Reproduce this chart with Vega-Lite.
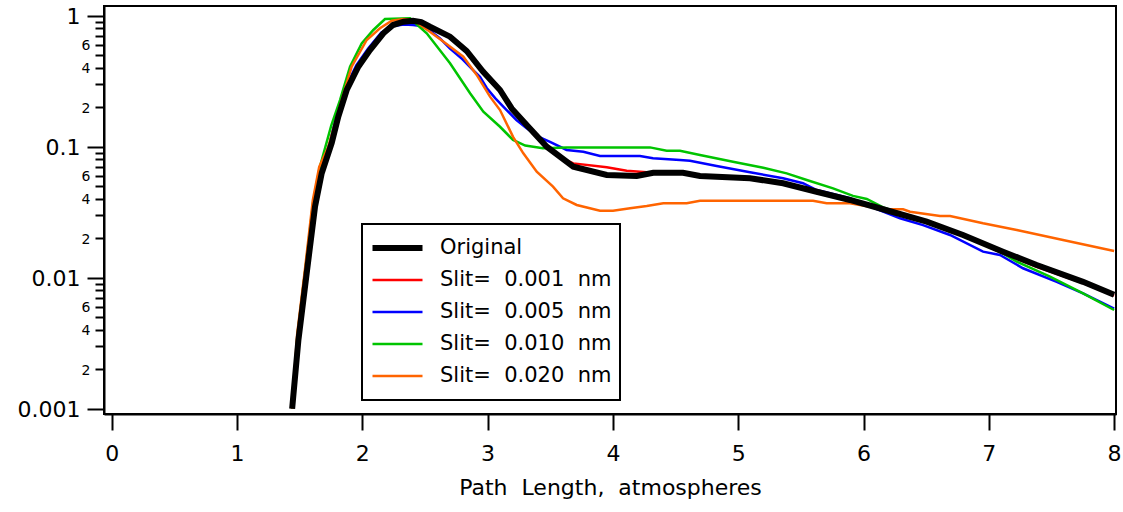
{
  "$schema": "https://vega.github.io/schema/vega-lite/v6.json",
  "autosize": {"type": "none"},
  "padding": {"left": 104, "top": 6, "right": 7, "bottom": 98},
  "width": 1012,
  "height": 408,
  "background": "white",
  "config": {
    "font": "DejaVu Sans",
    "view": {"stroke": "black", "strokeWidth": 2},
    "legend": {"strokeWidth": 2},
    "axis": {"grid": false, "domainColor": "black", "domainWidth": 2, "tickColor": "black", "tickWidth": 2, "labelColor": "black", "titleColor": "black", "labelFont": "DejaVu Sans", "titleFont": "DejaVu Sans"}
  },
  "data": {"values": [
    {"s": "Original", "x": 1.44, "y": 0.001},
    {"s": "Original", "x": 1.49, "y": 0.00334},
    {"s": "Original", "x": 1.556, "y": 0.0108},
    {"s": "Original", "x": 1.6225, "y": 0.0348},
    {"s": "Original", "x": 1.676, "y": 0.0627},
    {"s": "Original", "x": 1.756, "y": 0.1067},
    {"s": "Original", "x": 1.808, "y": 0.169},
    {"s": "Original", "x": 1.8755, "y": 0.271},
    {"s": "Original", "x": 1.968, "y": 0.408},
    {"s": "Original", "x": 2.061, "y": 0.547},
    {"s": "Original", "x": 2.168, "y": 0.734},
    {"s": "Original", "x": 2.245, "y": 0.849},
    {"s": "Original", "x": 2.33, "y": 0.9},
    {"s": "Original", "x": 2.405, "y": 0.916},
    {"s": "Original", "x": 2.47, "y": 0.895},
    {"s": "Original", "x": 2.54, "y": 0.824},
    {"s": "Original", "x": 2.7, "y": 0.692},
    {"s": "Original", "x": 2.833, "y": 0.538},
    {"s": "Original", "x": 2.963, "y": 0.374},
    {"s": "Original", "x": 3.099, "y": 0.271},
    {"s": "Original", "x": 3.192, "y": 0.196},
    {"s": "Original", "x": 3.312, "y": 0.1466},
    {"s": "Original", "x": 3.472, "y": 0.1},
    {"s": "Original", "x": 3.684, "y": 0.0703},
    {"s": "Original", "x": 3.951, "y": 0.0608},
    {"s": "Original", "x": 4.19, "y": 0.0598},
    {"s": "Original", "x": 4.322, "y": 0.0633},
    {"s": "Original", "x": 4.559, "y": 0.0633},
    {"s": "Original", "x": 4.695, "y": 0.0598},
    {"s": "Original", "x": 5.094, "y": 0.0574},
    {"s": "Original", "x": 5.358, "y": 0.0526},
    {"s": "Original", "x": 5.626, "y": 0.0453},
    {"s": "Original", "x": 5.892, "y": 0.0392},
    {"s": "Original", "x": 6.156, "y": 0.0333},
    {"s": "Original", "x": 6.504, "y": 0.0268},
    {"s": "Original", "x": 6.794, "y": 0.0212},
    {"s": "Original", "x": 7.113, "y": 0.0158},
    {"s": "Original", "x": 7.382, "y": 0.0125},
    {"s": "Original", "x": 7.752, "y": 0.0093},
    {"s": "Original", "x": 8.0, "y": 0.0074},

    {"s": "Slit=\u00a0\u00a00.001\u00a0\u00a0nm", "x": 1.44, "y": 0.001},
    {"s": "Slit=\u00a0\u00a00.001\u00a0\u00a0nm", "x": 1.487, "y": 0.00345},
    {"s": "Slit=\u00a0\u00a00.001\u00a0\u00a0nm", "x": 1.553, "y": 0.011},
    {"s": "Slit=\u00a0\u00a00.001\u00a0\u00a0nm", "x": 1.619, "y": 0.0355},
    {"s": "Slit=\u00a0\u00a00.001\u00a0\u00a0nm", "x": 1.672, "y": 0.0635},
    {"s": "Slit=\u00a0\u00a00.001\u00a0\u00a0nm", "x": 1.752, "y": 0.108},
    {"s": "Slit=\u00a0\u00a00.001\u00a0\u00a0nm", "x": 1.803, "y": 0.171},
    {"s": "Slit=\u00a0\u00a00.001\u00a0\u00a0nm", "x": 1.87, "y": 0.275},
    {"s": "Slit=\u00a0\u00a00.001\u00a0\u00a0nm", "x": 1.962, "y": 0.413},
    {"s": "Slit=\u00a0\u00a00.001\u00a0\u00a0nm", "x": 2.055, "y": 0.555},
    {"s": "Slit=\u00a0\u00a00.001\u00a0\u00a0nm", "x": 2.16, "y": 0.74},
    {"s": "Slit=\u00a0\u00a00.001\u00a0\u00a0nm", "x": 2.245, "y": 0.85},
    {"s": "Slit=\u00a0\u00a00.001\u00a0\u00a0nm", "x": 2.33, "y": 0.895},
    {"s": "Slit=\u00a0\u00a00.001\u00a0\u00a0nm", "x": 2.405, "y": 0.91},
    {"s": "Slit=\u00a0\u00a00.001\u00a0\u00a0nm", "x": 2.47, "y": 0.89},
    {"s": "Slit=\u00a0\u00a00.001\u00a0\u00a0nm", "x": 2.54, "y": 0.82},
    {"s": "Slit=\u00a0\u00a00.001\u00a0\u00a0nm", "x": 2.7, "y": 0.68},
    {"s": "Slit=\u00a0\u00a00.001\u00a0\u00a0nm", "x": 2.833, "y": 0.53},
    {"s": "Slit=\u00a0\u00a00.001\u00a0\u00a0nm", "x": 2.963, "y": 0.37},
    {"s": "Slit=\u00a0\u00a00.001\u00a0\u00a0nm", "x": 3.099, "y": 0.265},
    {"s": "Slit=\u00a0\u00a00.001\u00a0\u00a0nm", "x": 3.192, "y": 0.192},
    {"s": "Slit=\u00a0\u00a00.001\u00a0\u00a0nm", "x": 3.312, "y": 0.145},
    {"s": "Slit=\u00a0\u00a00.001\u00a0\u00a0nm", "x": 3.472, "y": 0.101},
    {"s": "Slit=\u00a0\u00a00.001\u00a0\u00a0nm", "x": 3.6, "y": 0.081},
    {"s": "Slit=\u00a0\u00a00.001\u00a0\u00a0nm", "x": 3.684, "y": 0.0746},
    {"s": "Slit=\u00a0\u00a00.001\u00a0\u00a0nm", "x": 3.951, "y": 0.0697},
    {"s": "Slit=\u00a0\u00a00.001\u00a0\u00a0nm", "x": 4.11, "y": 0.0656},
    {"s": "Slit=\u00a0\u00a00.001\u00a0\u00a0nm", "x": 4.322, "y": 0.0633},
    {"s": "Slit=\u00a0\u00a00.001\u00a0\u00a0nm", "x": 4.559, "y": 0.0633},
    {"s": "Slit=\u00a0\u00a00.001\u00a0\u00a0nm", "x": 4.695, "y": 0.0598},
    {"s": "Slit=\u00a0\u00a00.001\u00a0\u00a0nm", "x": 5.094, "y": 0.0572},
    {"s": "Slit=\u00a0\u00a00.001\u00a0\u00a0nm", "x": 5.358, "y": 0.0524},
    {"s": "Slit=\u00a0\u00a00.001\u00a0\u00a0nm", "x": 5.626, "y": 0.0451},
    {"s": "Slit=\u00a0\u00a00.001\u00a0\u00a0nm", "x": 5.892, "y": 0.039},
    {"s": "Slit=\u00a0\u00a00.001\u00a0\u00a0nm", "x": 6.156, "y": 0.033},
    {"s": "Slit=\u00a0\u00a00.001\u00a0\u00a0nm", "x": 6.504, "y": 0.0266},
    {"s": "Slit=\u00a0\u00a00.001\u00a0\u00a0nm", "x": 6.794, "y": 0.021},
    {"s": "Slit=\u00a0\u00a00.001\u00a0\u00a0nm", "x": 7.113, "y": 0.0154},
    {"s": "Slit=\u00a0\u00a00.001\u00a0\u00a0nm", "x": 7.382, "y": 0.0121},
    {"s": "Slit=\u00a0\u00a00.001\u00a0\u00a0nm", "x": 7.752, "y": 0.0091},
    {"s": "Slit=\u00a0\u00a00.001\u00a0\u00a0nm", "x": 8.0, "y": 0.0073},

    {"s": "Slit=\u00a0\u00a00.005\u00a0\u00a0nm", "x": 1.44, "y": 0.001},
    {"s": "Slit=\u00a0\u00a00.005\u00a0\u00a0nm", "x": 1.485, "y": 0.0035},
    {"s": "Slit=\u00a0\u00a00.005\u00a0\u00a0nm", "x": 1.55, "y": 0.0112},
    {"s": "Slit=\u00a0\u00a00.005\u00a0\u00a0nm", "x": 1.615, "y": 0.036},
    {"s": "Slit=\u00a0\u00a00.005\u00a0\u00a0nm", "x": 1.667, "y": 0.065},
    {"s": "Slit=\u00a0\u00a00.005\u00a0\u00a0nm", "x": 1.744, "y": 0.11},
    {"s": "Slit=\u00a0\u00a00.005\u00a0\u00a0nm", "x": 1.795, "y": 0.175},
    {"s": "Slit=\u00a0\u00a00.005\u00a0\u00a0nm", "x": 1.862, "y": 0.28},
    {"s": "Slit=\u00a0\u00a00.005\u00a0\u00a0nm", "x": 1.953, "y": 0.42},
    {"s": "Slit=\u00a0\u00a00.005\u00a0\u00a0nm", "x": 2.045, "y": 0.56},
    {"s": "Slit=\u00a0\u00a00.005\u00a0\u00a0nm", "x": 2.15, "y": 0.74},
    {"s": "Slit=\u00a0\u00a00.005\u00a0\u00a0nm", "x": 2.25, "y": 0.835},
    {"s": "Slit=\u00a0\u00a00.005\u00a0\u00a0nm", "x": 2.33, "y": 0.855},
    {"s": "Slit=\u00a0\u00a00.005\u00a0\u00a0nm", "x": 2.405, "y": 0.85},
    {"s": "Slit=\u00a0\u00a00.005\u00a0\u00a0nm", "x": 2.47, "y": 0.835},
    {"s": "Slit=\u00a0\u00a00.005\u00a0\u00a0nm", "x": 2.54, "y": 0.77},
    {"s": "Slit=\u00a0\u00a00.005\u00a0\u00a0nm", "x": 2.62, "y": 0.67},
    {"s": "Slit=\u00a0\u00a00.005\u00a0\u00a0nm", "x": 2.7, "y": 0.56},
    {"s": "Slit=\u00a0\u00a00.005\u00a0\u00a0nm", "x": 2.8, "y": 0.465},
    {"s": "Slit=\u00a0\u00a00.005\u00a0\u00a0nm", "x": 2.884, "y": 0.385},
    {"s": "Slit=\u00a0\u00a00.005\u00a0\u00a0nm", "x": 2.939, "y": 0.342},
    {"s": "Slit=\u00a0\u00a00.005\u00a0\u00a0nm", "x": 2.993, "y": 0.281},
    {"s": "Slit=\u00a0\u00a00.005\u00a0\u00a0nm", "x": 3.06, "y": 0.235},
    {"s": "Slit=\u00a0\u00a00.005\u00a0\u00a0nm", "x": 3.152, "y": 0.1905},
    {"s": "Slit=\u00a0\u00a00.005\u00a0\u00a0nm", "x": 3.23, "y": 0.16},
    {"s": "Slit=\u00a0\u00a00.005\u00a0\u00a0nm", "x": 3.312, "y": 0.138},
    {"s": "Slit=\u00a0\u00a00.005\u00a0\u00a0nm", "x": 3.4, "y": 0.12},
    {"s": "Slit=\u00a0\u00a00.005\u00a0\u00a0nm", "x": 3.498, "y": 0.109},
    {"s": "Slit=\u00a0\u00a00.005\u00a0\u00a0nm", "x": 3.631, "y": 0.0944},
    {"s": "Slit=\u00a0\u00a00.005\u00a0\u00a0nm", "x": 3.764, "y": 0.0916},
    {"s": "Slit=\u00a0\u00a00.005\u00a0\u00a0nm", "x": 3.897, "y": 0.0849},
    {"s": "Slit=\u00a0\u00a00.005\u00a0\u00a0nm", "x": 4.216, "y": 0.0849},
    {"s": "Slit=\u00a0\u00a00.005\u00a0\u00a0nm", "x": 4.32, "y": 0.0815},
    {"s": "Slit=\u00a0\u00a00.005\u00a0\u00a0nm", "x": 4.535, "y": 0.0791},
    {"s": "Slit=\u00a0\u00a00.005\u00a0\u00a0nm", "x": 4.615, "y": 0.078},
    {"s": "Slit=\u00a0\u00a00.005\u00a0\u00a0nm", "x": 4.828, "y": 0.0713},
    {"s": "Slit=\u00a0\u00a00.005\u00a0\u00a0nm", "x": 5.094, "y": 0.0638},
    {"s": "Slit=\u00a0\u00a00.005\u00a0\u00a0nm", "x": 5.358, "y": 0.0574},
    {"s": "Slit=\u00a0\u00a00.005\u00a0\u00a0nm", "x": 5.517, "y": 0.0526},
    {"s": "Slit=\u00a0\u00a00.005\u00a0\u00a0nm", "x": 5.626, "y": 0.0467},
    {"s": "Slit=\u00a0\u00a00.005\u00a0\u00a0nm", "x": 5.892, "y": 0.0404},
    {"s": "Slit=\u00a0\u00a00.005\u00a0\u00a0nm", "x": 6.156, "y": 0.0319},
    {"s": "Slit=\u00a0\u00a00.005\u00a0\u00a0nm", "x": 6.291, "y": 0.0284},
    {"s": "Slit=\u00a0\u00a00.005\u00a0\u00a0nm", "x": 6.475, "y": 0.0252},
    {"s": "Slit=\u00a0\u00a00.005\u00a0\u00a0nm", "x": 6.69, "y": 0.0212},
    {"s": "Slit=\u00a0\u00a00.005\u00a0\u00a0nm", "x": 6.954, "y": 0.0158},
    {"s": "Slit=\u00a0\u00a00.005\u00a0\u00a0nm", "x": 7.089, "y": 0.0149},
    {"s": "Slit=\u00a0\u00a00.005\u00a0\u00a0nm", "x": 7.273, "y": 0.0118},
    {"s": "Slit=\u00a0\u00a00.005\u00a0\u00a0nm", "x": 7.542, "y": 0.0093},
    {"s": "Slit=\u00a0\u00a00.005\u00a0\u00a0nm", "x": 7.752, "y": 0.0076},
    {"s": "Slit=\u00a0\u00a00.005\u00a0\u00a0nm", "x": 8.0, "y": 0.0058},

    {"s": "Slit=\u00a0\u00a00.010\u00a0\u00a0nm", "x": 1.44, "y": 0.001},
    {"s": "Slit=\u00a0\u00a00.010\u00a0\u00a0nm", "x": 1.482, "y": 0.0036},
    {"s": "Slit=\u00a0\u00a00.010\u00a0\u00a0nm", "x": 1.546, "y": 0.0118},
    {"s": "Slit=\u00a0\u00a00.010\u00a0\u00a0nm", "x": 1.608, "y": 0.038},
    {"s": "Slit=\u00a0\u00a00.010\u00a0\u00a0nm", "x": 1.658, "y": 0.068},
    {"s": "Slit=\u00a0\u00a00.010\u00a0\u00a0nm", "x": 1.706, "y": 0.1},
    {"s": "Slit=\u00a0\u00a00.010\u00a0\u00a0nm", "x": 1.752, "y": 0.145},
    {"s": "Slit=\u00a0\u00a00.010\u00a0\u00a0nm", "x": 1.822, "y": 0.227},
    {"s": "Slit=\u00a0\u00a00.010\u00a0\u00a0nm", "x": 1.902, "y": 0.408},
    {"s": "Slit=\u00a0\u00a00.010\u00a0\u00a0nm", "x": 1.995, "y": 0.615},
    {"s": "Slit=\u00a0\u00a00.010\u00a0\u00a0nm", "x": 2.088, "y": 0.778},
    {"s": "Slit=\u00a0\u00a00.010\u00a0\u00a0nm", "x": 2.181, "y": 0.944},
    {"s": "Slit=\u00a0\u00a00.010\u00a0\u00a0nm", "x": 2.381, "y": 0.955},
    {"s": "Slit=\u00a0\u00a00.010\u00a0\u00a0nm", "x": 2.514, "y": 0.734},
    {"s": "Slit=\u00a0\u00a00.010\u00a0\u00a0nm", "x": 2.7, "y": 0.433},
    {"s": "Slit=\u00a0\u00a00.010\u00a0\u00a0nm", "x": 2.86, "y": 0.256},
    {"s": "Slit=\u00a0\u00a00.010\u00a0\u00a0nm", "x": 2.966, "y": 0.185},
    {"s": "Slit=\u00a0\u00a00.010\u00a0\u00a0nm", "x": 3.099, "y": 0.142},
    {"s": "Slit=\u00a0\u00a00.010\u00a0\u00a0nm", "x": 3.203, "y": 0.1125},
    {"s": "Slit=\u00a0\u00a00.010\u00a0\u00a0nm", "x": 3.3, "y": 0.102},
    {"s": "Slit=\u00a0\u00a00.010\u00a0\u00a0nm", "x": 3.442, "y": 0.0973},
    {"s": "Slit=\u00a0\u00a00.010\u00a0\u00a0nm", "x": 3.631, "y": 0.0988},
    {"s": "Slit=\u00a0\u00a00.010\u00a0\u00a0nm", "x": 4.296, "y": 0.0988},
    {"s": "Slit=\u00a0\u00a00.010\u00a0\u00a0nm", "x": 4.429, "y": 0.0931},
    {"s": "Slit=\u00a0\u00a00.010\u00a0\u00a0nm", "x": 4.535, "y": 0.0931},
    {"s": "Slit=\u00a0\u00a00.010\u00a0\u00a0nm", "x": 4.695, "y": 0.0865},
    {"s": "Slit=\u00a0\u00a00.010\u00a0\u00a0nm", "x": 4.958, "y": 0.0768},
    {"s": "Slit=\u00a0\u00a00.010\u00a0\u00a0nm", "x": 5.2, "y": 0.069},
    {"s": "Slit=\u00a0\u00a00.010\u00a0\u00a0nm", "x": 5.387, "y": 0.0626},
    {"s": "Slit=\u00a0\u00a00.010\u00a0\u00a0nm", "x": 5.547, "y": 0.0557},
    {"s": "Slit=\u00a0\u00a00.010\u00a0\u00a0nm", "x": 5.757, "y": 0.0481},
    {"s": "Slit=\u00a0\u00a00.010\u00a0\u00a0nm", "x": 5.916, "y": 0.0421},
    {"s": "Slit=\u00a0\u00a00.010\u00a0\u00a0nm", "x": 6.026, "y": 0.0399},
    {"s": "Slit=\u00a0\u00a00.010\u00a0\u00a0nm", "x": 6.156, "y": 0.0344},
    {"s": "Slit=\u00a0\u00a00.010\u00a0\u00a0nm", "x": 6.504, "y": 0.0268},
    {"s": "Slit=\u00a0\u00a00.010\u00a0\u00a0nm", "x": 6.794, "y": 0.0212},
    {"s": "Slit=\u00a0\u00a00.010\u00a0\u00a0nm", "x": 7.113, "y": 0.01535},
    {"s": "Slit=\u00a0\u00a00.010\u00a0\u00a0nm", "x": 7.223, "y": 0.01324},
    {"s": "Slit=\u00a0\u00a00.010\u00a0\u00a0nm", "x": 7.488, "y": 0.01018},
    {"s": "Slit=\u00a0\u00a00.010\u00a0\u00a0nm", "x": 7.752, "y": 0.0076},
    {"s": "Slit=\u00a0\u00a00.010\u00a0\u00a0nm", "x": 8.0, "y": 0.00567},

    {"s": "Slit=\u00a0\u00a00.020\u00a0\u00a0nm", "x": 1.44, "y": 0.001},
    {"s": "Slit=\u00a0\u00a00.020\u00a0\u00a0nm", "x": 1.48, "y": 0.0037},
    {"s": "Slit=\u00a0\u00a00.020\u00a0\u00a0nm", "x": 1.544, "y": 0.012},
    {"s": "Slit=\u00a0\u00a00.020\u00a0\u00a0nm", "x": 1.605, "y": 0.039},
    {"s": "Slit=\u00a0\u00a00.020\u00a0\u00a0nm", "x": 1.656, "y": 0.07},
    {"s": "Slit=\u00a0\u00a00.020\u00a0\u00a0nm", "x": 1.729, "y": 0.1},
    {"s": "Slit=\u00a0\u00a00.020\u00a0\u00a0nm", "x": 1.836, "y": 0.227},
    {"s": "Slit=\u00a0\u00a00.020\u00a0\u00a0nm", "x": 1.915, "y": 0.408},
    {"s": "Slit=\u00a0\u00a00.020\u00a0\u00a0nm", "x": 2.035, "y": 0.653},
    {"s": "Slit=\u00a0\u00a00.020\u00a0\u00a0nm", "x": 2.141, "y": 0.802},
    {"s": "Slit=\u00a0\u00a00.020\u00a0\u00a0nm", "x": 2.235, "y": 0.916},
    {"s": "Slit=\u00a0\u00a00.020\u00a0\u00a0nm", "x": 2.327, "y": 0.944},
    {"s": "Slit=\u00a0\u00a00.020\u00a0\u00a0nm", "x": 2.407, "y": 0.927},
    {"s": "Slit=\u00a0\u00a00.020\u00a0\u00a0nm", "x": 2.54, "y": 0.755},
    {"s": "Slit=\u00a0\u00a00.020\u00a0\u00a0nm", "x": 2.67, "y": 0.61},
    {"s": "Slit=\u00a0\u00a00.020\u00a0\u00a0nm", "x": 2.806, "y": 0.486},
    {"s": "Slit=\u00a0\u00a00.020\u00a0\u00a0nm", "x": 2.913, "y": 0.353},
    {"s": "Slit=\u00a0\u00a00.020\u00a0\u00a0nm", "x": 3.019, "y": 0.241},
    {"s": "Slit=\u00a0\u00a00.020\u00a0\u00a0nm", "x": 3.099, "y": 0.1905},
    {"s": "Slit=\u00a0\u00a00.020\u00a0\u00a0nm", "x": 3.203, "y": 0.119},
    {"s": "Slit=\u00a0\u00a00.020\u00a0\u00a0nm", "x": 3.285, "y": 0.089},
    {"s": "Slit=\u00a0\u00a00.020\u00a0\u00a0nm", "x": 3.392, "y": 0.0644},
    {"s": "Slit=\u00a0\u00a00.020\u00a0\u00a0nm", "x": 3.522, "y": 0.0496},
    {"s": "Slit=\u00a0\u00a00.020\u00a0\u00a0nm", "x": 3.602, "y": 0.0404},
    {"s": "Slit=\u00a0\u00a00.020\u00a0\u00a0nm", "x": 3.711, "y": 0.0359},
    {"s": "Slit=\u00a0\u00a00.020\u00a0\u00a0nm", "x": 3.897, "y": 0.0325},
    {"s": "Slit=\u00a0\u00a00.020\u00a0\u00a0nm", "x": 4.001, "y": 0.0325},
    {"s": "Slit=\u00a0\u00a00.020\u00a0\u00a0nm", "x": 4.137, "y": 0.0339},
    {"s": "Slit=\u00a0\u00a00.020\u00a0\u00a0nm", "x": 4.27, "y": 0.0352},
    {"s": "Slit=\u00a0\u00a00.020\u00a0\u00a0nm", "x": 4.402, "y": 0.037},
    {"s": "Slit=\u00a0\u00a00.020\u00a0\u00a0nm", "x": 4.589, "y": 0.037},
    {"s": "Slit=\u00a0\u00a00.020\u00a0\u00a0nm", "x": 4.695, "y": 0.0387},
    {"s": "Slit=\u00a0\u00a00.020\u00a0\u00a0nm", "x": 5.597, "y": 0.0387},
    {"s": "Slit=\u00a0\u00a00.020\u00a0\u00a0nm", "x": 5.706, "y": 0.037},
    {"s": "Slit=\u00a0\u00a00.020\u00a0\u00a0nm", "x": 5.892, "y": 0.037},
    {"s": "Slit=\u00a0\u00a00.020\u00a0\u00a0nm", "x": 6.052, "y": 0.0348},
    {"s": "Slit=\u00a0\u00a00.020\u00a0\u00a0nm", "x": 6.156, "y": 0.0333},
    {"s": "Slit=\u00a0\u00a00.020\u00a0\u00a0nm", "x": 6.316, "y": 0.0333},
    {"s": "Slit=\u00a0\u00a00.020\u00a0\u00a0nm", "x": 6.371, "y": 0.0319},
    {"s": "Slit=\u00a0\u00a00.020\u00a0\u00a0nm", "x": 6.611, "y": 0.0296},
    {"s": "Slit=\u00a0\u00a00.020\u00a0\u00a0nm", "x": 6.691, "y": 0.0296},
    {"s": "Slit=\u00a0\u00a00.020\u00a0\u00a0nm", "x": 6.954, "y": 0.026},
    {"s": "Slit=\u00a0\u00a00.020\u00a0\u00a0nm", "x": 7.223, "y": 0.0231},
    {"s": "Slit=\u00a0\u00a00.020\u00a0\u00a0nm", "x": 7.592, "y": 0.0194},
    {"s": "Slit=\u00a0\u00a00.020\u00a0\u00a0nm", "x": 8.0, "y": 0.016}
  ]},
  "encoding": {
    "x": {
      "field": "x", "type": "quantitative",
      "scale": {"domain": [-0.0615, 8.015], "nice": false, "zero": false},
      "axis": {
        "values": [0, 1, 2, 3, 4, 5, 6, 7, 8],
        "format": "d",
        "tickSize": 16,
        "labelFontSize": 22,
        "labelPadding": 13,
        "labelFlush": false,
        "title": "Path\u00a0\u00a0Length,\u00a0\u00a0atmospheres",
        "titleFontSize": 22,
        "titleFontWeight": "normal",
        "titlePadding": 13
      }
    },
    "y": {
      "field": "y", "type": "quantitative",
      "scale": {"type": "log", "domain": [0.000911, 1.186], "nice": false},
      "axis": {
        "values": [0.001, 0.002, 0.003, 0.004, 0.005, 0.006, 0.007, 0.008, 0.009, 0.01, 0.02, 0.03, 0.04, 0.05, 0.06, 0.07, 0.08, 0.09, 0.1, 0.2, 0.3, 0.4, 0.5, 0.6, 0.7, 0.8, 0.9, 1],
        "labelExpr": "round(datum.value/pow(10,floor(log(datum.value)/LN10+0.001))) == 1 ? '' + datum.value : (indexof([2,4,6], round(datum.value/pow(10,floor(log(datum.value)/LN10+0.001)))) >= 0 ? '' + round(datum.value/pow(10,floor(log(datum.value)/LN10+0.001))) : '')",
        "tickSize": {"condition": {"test": "round(datum.value/pow(10,floor(log(datum.value)/LN10+0.001))) == 1", "value": 17}, "value": 9},
        "labelFontSize": {"condition": {"test": "round(datum.value/pow(10,floor(log(datum.value)/LN10+0.001))) == 1", "value": 22}, "value": 14},
        "labelPadding": {"condition": {"test": "round(datum.value/pow(10,floor(log(datum.value)/LN10+0.001))) == 1", "value": 7}, "value": 5},
        "labelOffset": 1,
        "labelOverlap": false,
        "labelFlush": false,
        "labelBound": false,
        "title": null
      }
    },
    "color": {
      "field": "s", "type": "nominal",
      "scale": {
        "domain": ["Original", "Slit=\u00a0\u00a00.001\u00a0\u00a0nm", "Slit=\u00a0\u00a00.005\u00a0\u00a0nm", "Slit=\u00a0\u00a00.010\u00a0\u00a0nm", "Slit=\u00a0\u00a00.020\u00a0\u00a0nm"],
        "range": ["#000000", "#ff0000", "#0000ff", "#00c400", "#ff6400"]
      },
      "legend": {
        "title": null,
        "orient": "none",
        "legendX": 258,
        "legendY": 218,
        "padding": 8,
        "strokeColor": "black",
        "fillColor": "white",
        "symbolType": "stroke",
        "symbolSize": 2500,
        "symbolOffset": 17,
        "labelOffset": 32,
        "clipHeight": 32,
        "rowPadding": 0,
        "labelFontSize": 21,
        "labelFont": "DejaVu Sans",
        "labelColor": "black",
        "labelLimit": 0,
        "encode": {"symbols": {"update": {"strokeWidth": {"signal": "datum.value === 'Original' ? 6 : 2.5"}}}}
      }
    }
  },
  "layer": [
    {
      "transform": [{"filter": "datum.s !== 'Original'"}],
      "mark": {"type": "line", "strokeWidth": 2.5}
    },
    {
      "transform": [{"filter": "datum.s === 'Original'"}],
      "mark": {"type": "line", "strokeWidth": 6}
    }
  ]
}
